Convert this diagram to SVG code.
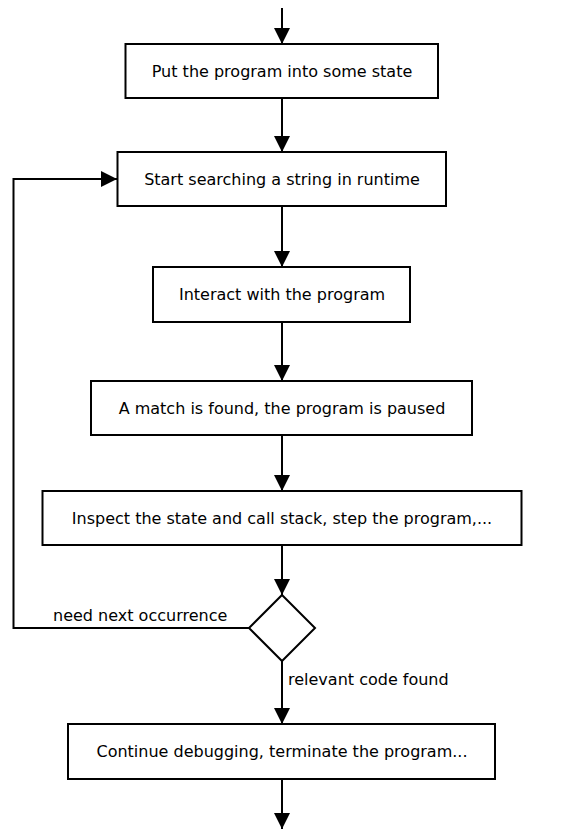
<svg xmlns="http://www.w3.org/2000/svg" width="584" height="830" viewBox="0 0 584 830">
<style>
.box{fill:#fff;stroke:#000;stroke-width:2}
.lbl{font-family:"DejaVu Sans",sans-serif;font-size:16px;fill:#000}
.mid{text-anchor:middle}
.edge{fill:none;stroke:#000;stroke-width:2}
</style>
<defs>
<marker id="arr" markerUnits="userSpaceOnUse" markerWidth="16" markerHeight="16" refX="16" refY="8" orient="auto" viewBox="0 0 16 16">
<path d="M0,0 L16,8 L0,16 z" fill="#000"/>
</marker>
</defs>
<rect width="584" height="830" fill="#fff"/>
<g id="connectors">
<line class="edge" x1="282" y1="8" x2="282" y2="44" marker-end="url(#arr)"/>
<line class="edge" x1="282" y1="98" x2="282" y2="152" marker-end="url(#arr)"/>
<line class="edge" x1="282" y1="206" x2="282" y2="267" marker-end="url(#arr)"/>
<line class="edge" x1="282" y1="322" x2="282" y2="381" marker-end="url(#arr)"/>
<line class="edge" x1="282" y1="435" x2="282" y2="491" marker-end="url(#arr)"/>
<line class="edge" x1="282" y1="545" x2="282" y2="595" marker-end="url(#arr)"/>
<line class="edge" x1="282" y1="661" x2="282" y2="724" marker-end="url(#arr)"/>
<polyline class="edge" points="249,628 13.5,628 13.5,179 117,179" marker-end="url(#arr)"/>
<line class="edge" x1="282" y1="779" x2="282" y2="829" marker-end="url(#arr)"/>
<text class="lbl" x="53" y="621">need next occurrence</text>
<text class="lbl" x="288" y="685">relevant code found</text>
</g>
<g id="n1"><rect class="box" x="125.5" y="44" width="312.5" height="54"/><text class="lbl mid" x="282" y="77">Put the program into some state</text></g>
<g id="n2"><rect class="box" x="117.5" y="152" width="328.5" height="54"/><text class="lbl mid" x="282" y="185">Start searching a string in runtime</text></g>
<g id="n3"><rect class="box" x="153" y="267" width="257" height="55"/><text class="lbl mid" x="282" y="300">Interact with the program</text></g>
<g id="n4"><rect class="box" x="91" y="381" width="381" height="54"/><text class="lbl mid" x="282" y="414">A match is found, the program is paused</text></g>
<g id="n5"><rect class="box" x="42.5" y="491" width="479" height="54"/><text class="lbl mid" x="282" y="524">Inspect the state and call stack, step the program,...</text></g>
<g id="d1"><polygon class="box" points="282,595 315,628 282,661 249,628"/></g>
<g id="n6"><rect class="box" x="68" y="724" width="427" height="55"/><text class="lbl mid" x="282" y="757">Continue debugging, terminate the program...</text></g>
</svg>
